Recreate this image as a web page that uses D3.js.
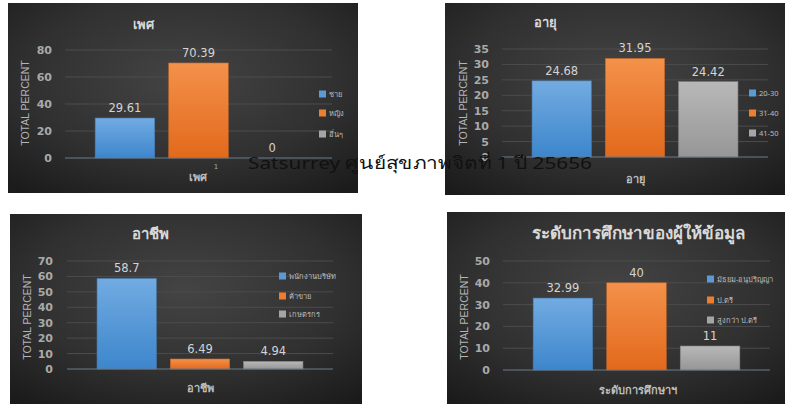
<!DOCTYPE html>
<html><head><meta charset="utf-8">
<script src="https://cdn.jsdelivr.net/npm/d3@7"></script>
<style>
html,body{margin:0;padding:0;background:#fff;}
svg{display:block;}
</style></head>
<body>
<svg id="chart" width="785" height="404"></svg>
<script>
// ---- data ----
const genderCats = ["ชาย", "หญิง", "อื่นๆ"];
const genderVals = [29.61, 70.39, 0];
const genderTicks = [0, 20, 40, 60, 80];

const ageCats = ["20-30", "31-40", "41-50"];
const ageVals = [24.68, 31.95, 24.42];
const ageTicks = [0, 5, 10, 15, 20, 25, 30, 35];

const occCats = ["พนักงานบริษัท", "ค้าขาย", "เกษตรกร"];
const occVals = [58.7, 6.49, 4.94];
const occTicks = [0, 10, 20, 30, 40, 50, 60, 70];

const eduCats = ["มัธยม-อนุปริญญา", "ป.ตรี", "สูงกว่า ป.ตรี"];
const eduVals = [32.99, 40, 11];
const eduTicks = [0, 10, 20, 30, 40, 50];

const seriesColors = ["#5b9bd5", "#ed7d31", "#a5a5a5"];

const svg = d3.select("#chart");
const defs = svg.append("defs");

const bg = defs.append("radialGradient").attr("id", "bgGrad")
  .attr("cx", "50%").attr("cy", "40%").attr("r", "75%");
bg.append("stop").attr("offset", "0%").attr("stop-color", "#444444");
bg.append("stop").attr("offset", "60%").attr("stop-color", "#303030");
bg.append("stop").attr("offset", "100%").attr("stop-color", "#1b1b1b");

const barGrads = [["#72abe2", "#3d86cc"], ["#f4914a", "#e2691c"], ["#b8b8b8", "#969696"]];
barGrads.forEach((c, i) => {
  const g = defs.append("linearGradient").attr("id", "bar" + i)
    .attr("x1", 0).attr("y1", 0).attr("x2", 0).attr("y2", 1);
  g.append("stop").attr("offset", "0%").attr("stop-color", c[0]);
  g.append("stop").attr("offset", "100%").attr("stop-color", c[1]);
});

function panel(cfg) {
  const g = svg.append("g");
  g.append("rect").attr("x", cfg.bg[0]).attr("y", cfg.bg[1])
    .attr("width", cfg.bg[2]).attr("height", cfg.bg[3]).attr("fill", "url(#bgGrad)");

  const y = d3.scaleLinear().domain([0, d3.max(cfg.ticks)]).range([cfg.plot.bottom, cfg.plot.top]);
  const x = d3.scaleBand().domain(cfg.cats).range([cfg.plot.l, cfg.plot.r])
    .paddingInner(0.19).paddingOuter(0.41);

  // gridlines
  g.selectAll(".grid").data(cfg.ticks.slice(1)).enter().append("line")
    .attr("x1", cfg.plot.l).attr("x2", cfg.plot.r)
    .attr("y1", d => y(d)).attr("y2", d => y(d))
    .attr("stroke", "#4c4c4c").attr("stroke-width", 1);

  // y tick labels
  const ax = d3.axisLeft(y).tickValues(cfg.ticks).tickSize(0).tickPadding(0);
  const axG = g.append("g").attr("transform", `translate(${cfg.tickRight},0)`).call(ax);
  axG.select(".domain").remove();
  axG.selectAll("text").attr("font-family", "DejaVu Sans").attr("font-weight", "bold")
    .attr("font-size", 11).attr("fill", "#a9a9a9");

  // bars
  g.selectAll(".bar").data(cfg.vals).enter().append("rect")
    .attr("x", (d, i) => x(cfg.cats[i]))
    .attr("y", d => y(d))
    .attr("width", x.bandwidth())
    .attr("height", d => y(0) - y(d))
    .attr("fill", (d, i) => `url(#bar${i})`)
    .attr("stroke", (d, i) => d3.color(seriesColors[i]).darker(0.6))
    .attr("stroke-width", 0.6);

  // baseline
  g.append("line").attr("x1", cfg.plot.l).attr("x2", cfg.plot.r)
    .attr("y1", y(0)).attr("y2", y(0)).attr("stroke", "#6a7c8e").attr("stroke-width", 1.2);

  // data labels
  g.selectAll(".lab").data(cfg.vals).enter().append("text")
    .attr("x", (d, i) => x(cfg.cats[i]) + x.bandwidth() / 2)
    .attr("y", d => y(d) - 6)
    .attr("text-anchor", "middle")
    .attr("font-family", "DejaVu Sans").attr("font-size", 11.5)
    .attr("fill", "#d4d4d4")
    .text(d => d);

  // title
  g.append("text").attr("x", cfg.title.x).attr("y", cfg.title.y)
    .attr("text-anchor", "middle").attr("font-family", "Noto Sans, DejaVu Sans")
    .attr("font-weight", "bold").attr("font-size", cfg.title.size)
    .attr("fill", "#d9d9d9").text(cfg.title.text);

  // x title
  g.append("text").attr("x", cfg.xTitle.x).attr("y", cfg.xTitle.y)
    .attr("text-anchor", "middle").attr("font-family", "Noto Sans, DejaVu Sans")
    .attr("font-weight", "bold").attr("font-size", 11)
    .attr("fill", "#bdbdbd").text(cfg.xTitle.text);

  // y title
  g.append("text").attr("transform", `translate(${cfg.yTitle[0]},${cfg.yTitle[1]}) rotate(-90)`)
    .attr("text-anchor", "middle").attr("dominant-baseline", "central")
    .attr("font-family", "Liberation Sans, Arial").attr("font-size", 10.5)
    .attr("fill", "#b5b5b5").text("TOTAL PERCENT");

  // legend
  const lg = g.selectAll(".leg").data(cfg.cats).enter().append("g")
    .attr("transform", (d, i) => `translate(${cfg.legend.x},${cfg.legend.ys[i]})`);
  lg.append("rect").attr("x", 0).attr("y", -3.5).attr("width", 7).attr("height", 7)
    .attr("fill", (d, i) => seriesColors[i]);
  lg.append("text").attr("x", 10).attr("y", 0).attr("dominant-baseline", "central")
    .attr("font-family", "Noto Sans, DejaVu Sans").attr("font-size", 7.5)
    .attr("fill", "#bdbdbd").text(d => d);

  if (cfg.catLabel) {
    g.append("text").attr("x", cfg.catLabel.x).attr("y", cfg.catLabel.y)
      .attr("text-anchor", "middle").attr("font-family", "DejaVu Sans")
      .attr("font-size", 7).attr("fill", "#a9a9a9").text(cfg.catLabel.text);
  }
}

panel({
  bg: [8, 3, 350, 190], plot: { l: 65, r: 332, top: 50, bottom: 158 },
  cats: genderCats, vals: genderVals, ticks: genderTicks,
  title: { x: 143, y: 29, size: 13, text: "เพศ" },
  xTitle: { x: 198, y: 181, text: "เพศ" }, yTitle: [25, 103], tickRight: 52,
  legend: { x: 319, ys: [94, 113, 134] }, catLabel: { x: 216, y: 169, text: "1" }
});
panel({
  bg: [445, 3, 340, 192], plot: { l: 502, r: 768, top: 49, bottom: 157 },
  cats: ageCats, vals: ageVals, ticks: ageTicks,
  title: { x: 545, y: 27, size: 13, text: "อายุ" },
  xTitle: { x: 635, y: 183, text: "อายุ" }, yTitle: [463, 103], tickRight: 489,
  legend: { x: 749, ys: [93, 113, 133] }
});
panel({
  bg: [10, 214, 352, 190], plot: { l: 67, r: 333, top: 261, bottom: 369 },
  cats: occCats, vals: occVals, ticks: occTicks,
  title: { x: 150, y: 239, size: 15, text: "อาชีพ" },
  xTitle: { x: 200, y: 392, text: "อาชีพ" }, yTitle: [27, 317], tickRight: 53,
  legend: { x: 279, ys: [276, 296, 314] }
});
panel({
  bg: [447, 212, 338, 192], plot: { l: 503, r: 770, top: 261, bottom: 370 },
  cats: eduCats, vals: eduVals, ticks: eduTicks,
  title: { x: 638, y: 239, size: 17, text: "ระดับการศึกษาของผู้ให้ข้อมูล" },
  xTitle: { x: 638, y: 394, text: "ระดับการศึกษาฯ" }, yTitle: [464, 317], tickRight: 490,
  legend: { x: 707, ys: [279, 300, 320] }
});

// overlay caption
svg.append("text").attr("x", 248).attr("y", 169)
  .attr("font-family", "Noto Sans, DejaVu Sans").attr("font-size", 17)
  .attr("fill", "#111").attr("textLength", 344).attr("lengthAdjust", "spacingAndGlyphs")
  .text("Satsurrey ศูนย์สุขภาพจิตที่ 1 ปี 25656");
</script>
</body></html>
